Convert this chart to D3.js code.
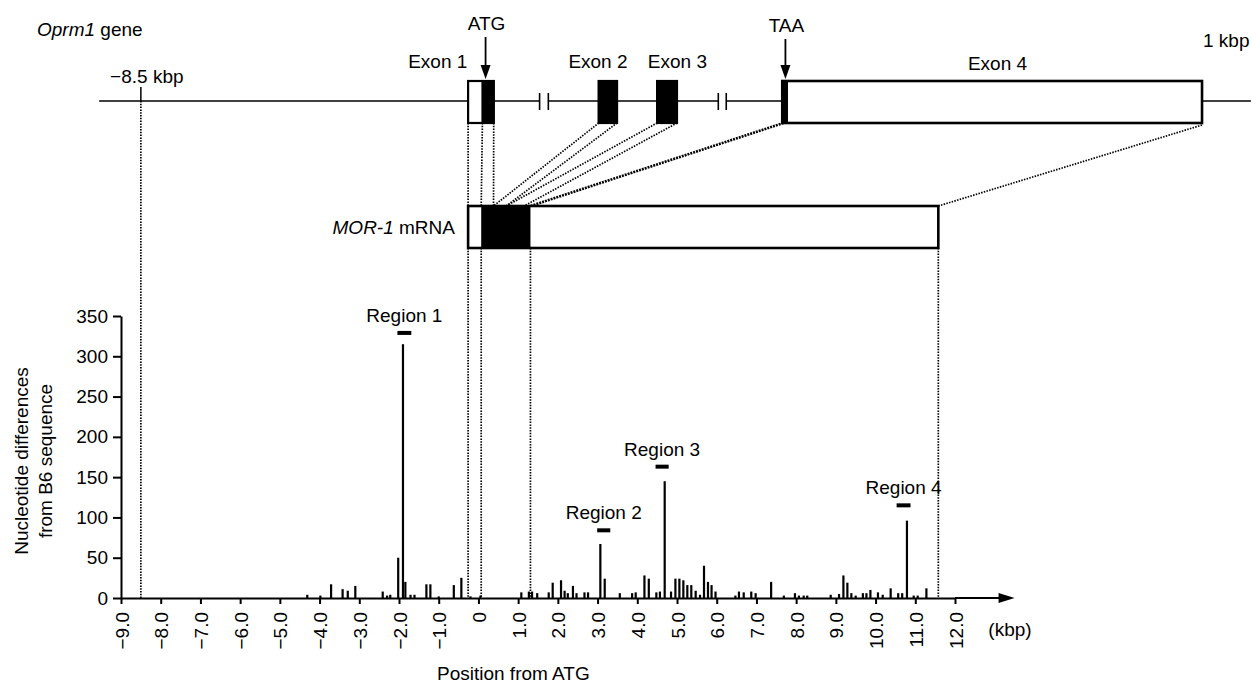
<!doctype html>
<html lang="en">
<head>
<meta charset="utf-8">
<script src="https://d3js.org/d3.v7.min.js"></script>
<style>
  body { margin: 0; background: #fff; }
  svg text { font-family: "Liberation Sans", Arial, sans-serif; fill: #000; }
</style>
</head>
<body>
<div id="chart"></div>
<script>

// bars: position from ATG (kbp) and nucleotide differences from B6
var barPos = [-4.31, -3.98, -3.71, -3.42, -3.29, -3.10, -2.41, -2.30, -2.22, -2.02,
  -1.90, -1.84, -1.71, -1.61, -1.31, -1.21, -1.00, -0.62, -0.43, -0.20,
  0.05, 1.08, 1.27, 1.35, 1.48, 1.77, 1.87, 2.08, 2.17, 2.25,
  2.38, 2.47, 2.67, 2.76, 3.07, 3.18, 3.56, 3.87, 3.96, 4.18,
  4.29, 4.48, 4.57, 4.69, 4.85, 4.96, 5.06, 5.16, 5.26, 5.36,
  5.47, 5.58, 5.68, 5.78, 5.87, 5.97, 6.47, 6.56, 6.68, 6.87,
  6.98, 7.37, 7.69, 7.97, 8.07, 8.19, 8.28, 8.87, 9.08, 9.19,
  9.29, 9.39, 9.50, 9.68, 9.77, 9.87, 10.06, 10.18, 10.38, 10.57,
  10.67, 10.79, 10.96, 11.06, 11.28];
var barVal = [4, 3, 17, 11, 9, 15, 8, 3, 4, 50,
  315, 20, 4, 4, 17, 17, 2, 16, 25, 2,
  3, 7, 8, 8, 6, 7, 19, 22, 9, 6,
  15, 6, 7, 7, 67, 24, 6, 6, 7, 28,
  24, 7, 8, 145, 8, 24, 24, 22, 16, 16,
  9, 4, 40, 20, 16, 8, 3, 8, 7, 8,
  6, 20, 3, 6, 3, 3, 3, 4, 5, 28,
  19, 6, 3, 6, 6, 10, 7, 4, 12, 6,
  6, 96, 3, 3, 12];

var xTicks = d3.range(-9, 13);
var yTicks = [0, 50, 100, 150, 200, 250, 300, 350];

// region markers
var regionNames = ["Region 1", "Region 2", "Region 3", "Region 4"];
var regionStart = [-2.04, 2.99, 4.46, 10.53];
var regionEnd = [-1.69, 3.32, 4.79, 10.88];
var regionLevel = [329, 84, 163, 115];

// gene diagram, drawn in the same kbp units as the x axis
var exonNames = ["Exon 1", "Exon 2", "Exon 3", "Exon 4"];
var exonStart = [-0.26, 3.03, 4.50, 7.65];
var exonEnd = [0.385, 3.49, 5.00, 18.22];
var codeStart = [0.10, 3.03, 4.50, 7.65];
var codeEnd = [0.385, 3.49, 5.00, 7.77];
var exonLabelPos = [-0.28, 3.01, 5.01, 13.07];
var breakLeft = [1.54, 6.04];
var breakRight = [1.76, 6.24];
var codonNames = ["ATG", "TAA"];
var codonPos = [0.18, 7.73];
var mrnaStart = -0.26, mrnaAtg = 0.07, mrnaStop = 1.31, mrnaEnd = 11.58;
var linkFrom = [-0.26, 0.10, 0.385, 3.03, 3.49, 4.50, 5.00, 7.68, 18.22];
var linkTo = [-0.26, 0.07, 0.38, 0.38, 0.70, 0.70, 1.15, 1.31, 11.58];
var dropLines = [-0.26, 0.07, 1.31, 11.58];

var W = 1252, H = 699;
var svg = d3.select("#chart").append("svg")
  .attr("width", W)
  .attr("height", H);

var x = d3.scaleLinear().domain([-9, 12]).range([121, 955]);
var y = d3.scaleLinear().domain([0, 350]).range([598, 316]);

var geneY = 101, exonTop = 81, exonBot = 123, mrnaTop = 206, mrnaBot = 248;
var fs = 19;

// dotted guide lines
var dots = svg.append("g")
  .attr("stroke", "#000")
  .attr("stroke-width", 1.7)
  .attr("stroke-dasharray", "1.5,1.3")
  .attr("fill", "none");

dots.append("line")
  .attr("x1", x(-8.5)).attr("x2", x(-8.5))
  .attr("y1", geneY).attr("y2", y(0));

linkFrom.forEach(function(d, i) {
  var heavy = i === 7;
  dots.append("line")
    .attr("x1", x(d)).attr("y1", d > 10 ? exonBot + 2 : exonBot)
    .attr("x2", x(linkTo[i])).attr("y2", mrnaTop)
    .attr("stroke-width", heavy ? 2.6 : 1.7)
    .attr("stroke-dasharray", heavy ? "2,1" : "1.5,1.3");
});

dropLines.forEach(function(d) {
  dots.append("line")
    .attr("x1", x(d)).attr("x2", x(d))
    .attr("y1", mrnaBot).attr("y2", y(0));
});

// gene line
svg.append("line")
  .attr("x1", x(-9.55)).attr("x2", x(19.45))
  .attr("y1", geneY).attr("y2", geneY)
  .attr("stroke", "#000").attr("stroke-width", 1.6);

svg.append("line")
  .attr("x1", x(-8.5)).attr("x2", x(-8.5))
  .attr("y1", geneY - 14).attr("y2", geneY)
  .attr("stroke", "#000").attr("stroke-width", 1.5);

// breaks in the gene line
breakLeft.forEach(function(d, i) {
  svg.append("rect")
    .attr("x", x(d)).attr("y", geneY - 3)
    .attr("width", x(breakRight[i]) - x(d)).attr("height", 6)
    .attr("fill", "#fff");
  [d, breakRight[i]].forEach(function(b) {
    svg.append("line")
      .attr("x1", x(b)).attr("x2", x(b))
      .attr("y1", geneY - 8).attr("y2", geneY + 9)
      .attr("stroke", "#000").attr("stroke-width", 1.6);
  });
});

// exons
exonStart.forEach(function(d, i) {
  svg.append("rect")
    .attr("x", x(d)).attr("y", exonTop)
    .attr("width", x(exonEnd[i]) - x(d)).attr("height", exonBot - exonTop)
    .attr("fill", "#fff").attr("stroke", "#000")
    .attr("stroke-width", i === 3 ? 2.6 : 2.2);
  svg.append("rect")
    .attr("x", x(codeStart[i])).attr("y", exonTop)
    .attr("width", x(codeEnd[i]) - x(codeStart[i])).attr("height", exonBot - exonTop)
    .attr("fill", "#000").attr("stroke", "#000").attr("stroke-width", 2);
  svg.append("text")
    .attr("x", x(exonLabelPos[i]))
    .attr("y", i === 3 ? 70 : 68)
    .attr("text-anchor", i === 0 ? "end" : "middle")
    .attr("font-size", fs)
    .text(exonNames[i]);
});

// ATG / TAA arrows
codonPos.forEach(function(d, i) {
  var cx = x(d);
  svg.append("line")
    .attr("x1", cx).attr("x2", cx)
    .attr("y1", 37 + i * 2).attr("y2", 67)
    .attr("stroke", "#000").attr("stroke-width", 1.8);
  svg.append("path")
    .attr("d", "M" + (cx - 5) + ",65L" + (cx + 5) + ",65L" + cx + ",79Z")
    .attr("fill", "#000");
  svg.append("text")
    .attr("x", cx + 1).attr("y", 30 + i * 2)
    .attr("text-anchor", "middle")
    .attr("font-size", fs)
    .text(codonNames[i]);
});

// gene labels
var g1 = svg.append("text").attr("x", 37).attr("y", 36).attr("font-size", fs);
g1.append("tspan").attr("font-style", "italic").text("Oprm1");
g1.append("tspan").text(" gene");

svg.append("text")
  .attr("x", x(-8.35)).attr("y", 83)
  .attr("text-anchor", "middle")
  .attr("font-size", fs)
  .text("\u22128.5 kbp");

svg.append("text")
  .attr("x", 1203).attr("y", 47)
  .attr("font-size", fs)
  .text("1 kbp");

// mRNA
svg.append("rect")
  .attr("x", x(mrnaStart)).attr("y", mrnaTop)
  .attr("width", x(mrnaEnd) - x(mrnaStart)).attr("height", mrnaBot - mrnaTop)
  .attr("fill", "#fff").attr("stroke", "#000").attr("stroke-width", 2.6);
svg.append("rect")
  .attr("x", x(mrnaAtg)).attr("y", mrnaTop)
  .attr("width", x(mrnaStop) - x(mrnaAtg)).attr("height", mrnaBot - mrnaTop)
  .attr("fill", "#000");

var m1 = svg.append("text").attr("x", 455).attr("y", 234)
  .attr("text-anchor", "end").attr("font-size", fs);
m1.append("tspan").attr("font-style", "italic").text("MOR-1");
m1.append("tspan").text(" mRNA");

// bars
svg.append("g").selectAll("rect")
  .data(barPos)
  .enter()
  .append("rect")
    .attr("x", function(d) { return x(d) - 1.1; })
    .attr("y", function(d, i) { return y(barVal[i]); })
    .attr("width", 2.2)
    .attr("height", function(d, i) { return y(0) - y(barVal[i]); })
    .attr("fill", "#000");

// region markers
regionNames.forEach(function(name, i) {
  var mid = (x(regionStart[i]) + x(regionEnd[i])) / 2;
  svg.append("rect")
    .attr("x", x(regionStart[i])).attr("y", y(regionLevel[i]) - 2)
    .attr("width", x(regionEnd[i]) - x(regionStart[i])).attr("height", 4)
    .attr("fill", "#000");
  svg.append("text")
    .attr("x", mid).attr("y", y(regionLevel[i]) - 11)
    .attr("text-anchor", "middle")
    .attr("font-size", fs)
    .text(name);
});

// y axis
var yAxis = svg.append("g")
  .attr("transform", "translate(" + x(-9) + ",0)")
  .call(d3.axisLeft(y).tickValues(yTicks).tickSize(8).tickSizeOuter(0).tickPadding(5));
yAxis.selectAll("path, line").attr("stroke-width", 2);
yAxis.selectAll("text")
  .attr("font-size", fs)
  .attr("font-family", "Liberation Sans, Arial, sans-serif");

// x axis
var xAxis = svg.append("g")
  .attr("transform", "translate(0," + y(0) + ")")
  .call(d3.axisBottom(x).tickValues(xTicks).tickSize(6).tickSizeOuter(0)
    .tickFormat(function(t) {
      return t === 0 ? "0" : (t < 0 ? "\u2212" : "") + Math.abs(t).toFixed(1);
    }));
xAxis.selectAll("path, line").attr("stroke-width", 2);
xAxis.selectAll("text")
  .attr("font-size", fs)
  .attr("font-family", "Liberation Sans, Arial, sans-serif")
  .attr("transform", "rotate(-90)")
  .attr("text-anchor", "end")
  .attr("x", -14)
  .attr("y", 7)
  .attr("dy", null);

// axis arrow
var arrowEnd = x(13.5);
svg.append("line")
  .attr("x1", x(12)).attr("x2", arrowEnd - 6)
  .attr("y1", y(0)).attr("y2", y(0))
  .attr("stroke", "#000").attr("stroke-width", 2);
svg.append("path")
  .attr("d", "M" + (arrowEnd - 16) + "," + (y(0) - 5) + "L" + arrowEnd + "," + y(0) +
    "L" + (arrowEnd - 16) + "," + (y(0) + 5) + "Z")
  .attr("fill", "#000");

svg.append("text")
  .attr("x", 1010).attr("y", 636)
  .attr("text-anchor", "middle")
  .attr("font-size", fs)
  .text("(kbp)");

// axis titles
svg.append("text")
  .attr("x", 437).attr("y", 680)
  .attr("font-size", fs)
  .text("Position from ATG");

var yt = svg.append("text")
  .attr("transform", "translate(28,461) rotate(-90)")
  .attr("text-anchor", "middle")
  .attr("font-size", fs);
yt.append("tspan").attr("x", 0).attr("dy", 0).text("Nucleotide differences");
yt.append("tspan").attr("x", 0).attr("dy", 23.5).text("from B6 sequence");

</script>
</body>
</html>
